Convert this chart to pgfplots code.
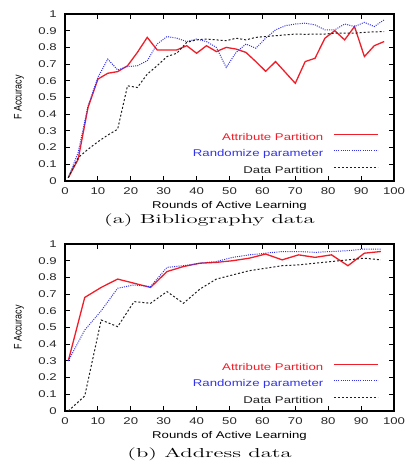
\documentclass[border=0pt]{standalone}
\usepackage{pgfplots}
\pgfplotsset{compat=1.18}
\usepackage{pgfplotstable}
\usepackage{fontspec}
\newfontfamily\gp{Liberation Sans}[FakeStretch=1.35]
\newfontfamily\gpy{Liberation Sans}[FakeStretch=0.82]

\definecolor{gpred}{RGB}{240,30,40}
\definecolor{gpblue}{RGB}{50,50,235}
\definecolor{gpblack}{RGB}{30,30,30}

% Bibliography data: round, attribute partition, randomize parameter, data partition
\pgfplotstableread{
x    attr   rand   data
1    0.02   0.02   0.02
4    0.13   0.17   0.14
7    0.44   0.45   0.19
10   0.61   0.62   0.235
13   0.645  0.73   0.275
16   0.655  0.665  0.31
19   0.69   0.685  0.57
22   0.77   0.69   0.56
25   0.86   0.72   0.64
28   0.785  0.82   0.69
31   0.785  0.865  0.745
34   0.785  0.855  0.765
37   0.81   0.835  0.83
40   0.765  0.85   0.845
43   0.81   0.835  0.85
46   0.775  0.80   0.845
49   0.80   0.68   0.84
52   0.79   0.77   0.855
55   0.77   0.82   0.845
58   0.715  0.795  0.86
61   0.657  0.855  0.865
64   0.715  0.905  0.87
67   0.65   0.93   0.875
70   0.585  0.94   0.88
73   0.715  0.945  0.878
76   0.735  0.935  0.88
79   0.855  0.905  0.88
82   0.90   0.905  0.885
85   0.845  0.94   0.885
88   0.925  0.925  0.885
91   0.745  0.95   0.89
94   0.81   0.925  0.893
97   0.835  0.965  0.895
}\bibtable

% Address data
\pgfplotstableread{
x    attr   rand   data
1    0.30   0.30   0.00
6    0.68   0.485  0.09
11   0.74   0.60   0.545
16   0.79   0.735  0.505
21   0.765  0.755  0.655
26   0.74   0.745  0.645
31   0.835  0.86   0.715
36   0.865  0.87   0.645
41   0.885  0.885  0.73
46   0.89   0.895  0.79
51   0.90   0.92   0.815
56   0.915  0.935  0.84
61   0.94   0.945  0.855
66   0.905  0.955  0.87
71   0.935  0.955  0.875
76   0.92   0.95   0.885
81   0.935  0.955  0.895
86   0.87   0.96   0.905
91   0.945  0.97   0.915
96   0.955  0.97   0.905
}\addrtable

\pgfplotsset{
  gnuplotframe/.style={
    scale only axis,
    width=329bp, height=167bp,
    xmin=0, xmax=100, ymin=0, ymax=1,
    xtick={0,10,...,100},
    ytick={0,0.1,0.2,0.3,0.4,0.5,0.6,0.7,0.8,0.9,1},
    yticklabels={0,0.1,0.2,0.3,0.4,0.5,0.6,0.7,0.8,0.9,1},
    tick align=inside,
    tick pos=both,
    major tick length=5bp,
    minor tick num=0,
    axis line style={line width=1.2bp, black},
    every tick/.style={line width=1bp, black},
    /pgf/number format/assume math mode=true,
    tick label style={font=\gp\fontsize{9.8}{11}\selectfont, color=black!85},
    xticklabel style={anchor=center, yshift=-10bp},
    yticklabel style={anchor=east, inner sep=0pt, xshift=-8bp},
    every axis x label/.style={at={(axis description cs:0.5,0)}, anchor=center, yshift=-25bp},
    every axis y label/.style={at={(axis description cs:-0.1398,0.5)}, anchor=center, rotate=90},
    xlabel style={font=\gp\fontsize{9.8}{11}\selectfont},
    ylabel style={font=\gpy\fontsize{11}{12}\selectfont},
    xlabel={Rounds of Active Learning},
    ylabel={F Accuracy},
    legend plot pos=right,
    legend cell align=right,
    legend image code/.code={\draw[##1] (0bp,3.5bp) -- (44bp,3.5bp);},
    legend style={draw=none, fill=none, at={(0.963,0.02)}, anchor=south east,
      font=\gp\fontsize{9.8}{11}\selectfont,
      nodes={inner sep=0pt, text height=7bp, text depth=2bp},
      row sep=7.5bp},
  },
  attrline/.style={gpred, line width=1.3bp},
  randline/.style={gpblue, line width=1bp, dash pattern=on 1bp off 1.2bp},
  dataline/.style={gpblack, line width=1bp, dash pattern=on 2bp off 2bp},
}

\begin{document}
\begin{tikzpicture}
\path[use as bounding box] (0,0) rectangle (405bp,466bp);

\begin{axis}[gnuplotframe, at={(65bp,285bp)}, anchor=south west]
  \addplot[attrline] table[x=x, y=attr] {\bibtable};
  \addlegendentry{\textcolor{gpred}{Attribute Partition}\hspace*{10bp}}
  \addplot[randline] table[x=x, y=rand] {\bibtable};
  \addlegendentry{\textcolor{gpblue}{Randomize parameter}\hspace*{10bp}}
  \addplot[dataline] table[x=x, y=data] {\bibtable};
  \addlegendentry{\textcolor{gpblack}{Data Partition}\hspace*{10bp}}
\end{axis}
\node[xscale=1.75, anchor=center] at (209.5bp,246bp) {\fontsize{13}{15}\selectfont (a) Bibliography data};

\begin{axis}[gnuplotframe, at={(65bp,55bp)}, anchor=south west]
  \addplot[attrline] table[x=x, y=attr] {\addrtable};
  \addlegendentry{\textcolor{gpred}{Attribute Partition}\hspace*{10bp}}
  \addplot[randline] table[x=x, y=rand] {\addrtable};
  \addlegendentry{\textcolor{gpblue}{Randomize parameter}\hspace*{10bp}}
  \addplot[dataline] table[x=x, y=data] {\addrtable};
  \addlegendentry{\textcolor{gpblack}{Data Partition}\hspace*{10bp}}
\end{axis}
\node[xscale=1.75, anchor=center] at (209.5bp,12bp) {\fontsize{13}{15}\selectfont (b) Address data};
\end{tikzpicture}
\end{document}
